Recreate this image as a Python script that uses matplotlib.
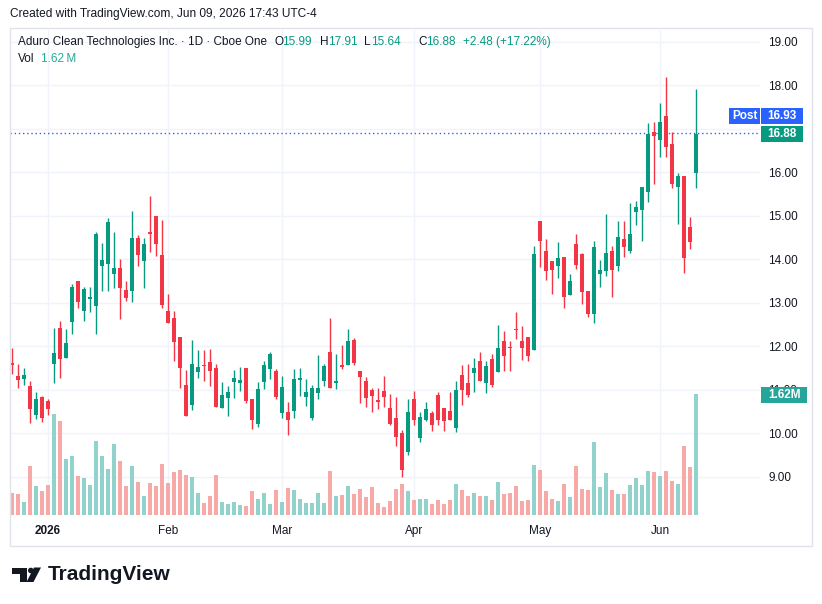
import matplotlib
matplotlib.use('Agg')
import matplotlib.pyplot as plt
from matplotlib.patches import Rectangle, Polygon, Circle
import numpy as np
import pandas as pd

# ---- data (daily OHLC, volume in millions) ----
opens = [11.62, 11.32, 11.24, 11.09, 10.41, 10.84, 10.75, 11.58, 12.43, 11.74,
         12.55, 13.51, 12.80, 13.08, 12.92, 13.84, 13.88, 13.65, 13.80, 13.30,
         13.26, 14.49, 13.95, 14.61, 15.00, 14.10, 12.82, 12.66, 12.22, 11.11,
         10.66, 11.40, 11.57, 11.64, 11.51, 10.59, 10.81, 11.17, 11.15, 11.50,
         10.79, 10.22, 11.18, 11.48, 11.44, 10.47, 10.49, 10.51, 11.22, 10.83,
         10.35, 10.93, 11.21, 11.87, 11.15, 11.57, 11.57, 12.14, 11.43, 11.20,
         11.00, 10.77, 10.97, 10.57, 10.34, 10.01, 9.56, 10.79, 9.90, 10.30,
         10.47, 10.88, 10.58, 10.51, 10.13, 11.34, 11.16, 11.38, 11.65, 11.15,
         11.70, 11.41, 12.11, 11.98, 12.40, 12.13, 12.21, 11.91, 14.89, 14.20,
         13.95, 13.84, 14.04, 13.18, 14.34, 14.11, 13.26, 12.74, 13.66, 13.72,
         14.18, 13.84, 14.47, 14.18, 15.08, 15.13, 15.54, 16.93, 16.73, 17.30,
         16.64, 15.65, 15.92, 14.73, 15.99]
highs = [11.95, 11.58, 11.49, 11.21, 10.95, 10.85, 10.79, 12.43, 12.59, 12.40,
         13.44, 13.51, 13.37, 13.37, 14.63, 14.38, 14.95, 14.62, 14.00, 13.51,
         15.11, 14.56, 14.49, 15.46, 15.00, 14.91, 13.21, 12.82, 12.22, 11.45,
         12.15, 11.92, 11.92, 11.94, 11.59, 11.18, 11.09, 11.46, 11.53, 11.50,
         10.79, 11.18, 11.67, 11.87, 11.48, 11.31, 10.72, 11.47, 11.50, 11.25,
         11.11, 11.80, 11.60, 12.65, 11.83, 12.03, 12.39, 12.20, 11.43, 11.30,
         11.05, 11.04, 11.32, 10.90, 10.84, 10.08, 10.79, 10.97, 10.49, 10.72,
         10.51, 10.95, 10.58, 10.95, 11.20, 11.57, 11.58, 11.74, 11.86, 11.65,
         11.81, 12.48, 12.36, 12.13, 12.78, 12.46, 12.21, 14.30, 14.89, 14.46,
         13.95, 14.39, 14.04, 13.67, 14.59, 14.15, 13.26, 14.41, 13.98, 15.04,
         14.31, 14.89, 14.89, 15.30, 15.33, 15.65, 17.14, 17.16, 17.60, 18.20,
         16.93, 15.98, 15.92, 14.96, 17.91]
lows = [11.37, 11.03, 11.12, 10.23, 10.32, 10.25, 10.41, 11.16, 11.26, 11.72,
        12.27, 12.89, 12.57, 12.78, 12.27, 13.28, 13.28, 13.35, 12.62, 13.03,
        13.01, 13.84, 13.35, 14.16, 14.07, 12.87, 12.53, 11.65, 11.03, 10.40,
        10.54, 11.26, 11.21, 11.09, 10.61, 10.59, 10.40, 10.80, 10.97, 10.70,
        10.10, 10.14, 11.02, 11.25, 10.79, 10.34, 9.97, 10.36, 10.85, 10.63,
        10.31, 10.79, 11.08, 11.05, 11.02, 11.48, 11.57, 11.57, 10.70, 10.61,
        10.49, 10.56, 10.61, 10.18, 9.71, 9.00, 9.50, 10.19, 9.80, 10.28,
        10.05, 10.19, 10.04, 10.31, 10.02, 10.66, 10.83, 10.94, 11.19, 10.92,
        11.06, 11.41, 11.43, 11.43, 12.17, 11.68, 11.66, 11.91, 13.82, 13.52,
        13.20, 13.57, 12.88, 13.18, 13.77, 12.97, 12.67, 12.53, 13.36, 13.61,
        13.13, 13.72, 14.06, 14.14, 14.78, 14.43, 15.31, 15.74, 16.34, 16.36,
        15.63, 14.82, 13.68, 14.23, 15.64]
closes = [11.57, 11.23, 11.35, 10.55, 10.79, 10.34, 10.55, 11.85, 11.70, 12.08,
          13.37, 13.01, 13.32, 13.14, 14.59, 13.99, 14.86, 13.80, 13.33, 13.10,
          14.49, 14.09, 14.36, 14.59, 14.36, 12.95, 12.53, 12.09, 11.51, 10.40,
          11.60, 11.53, 11.54, 11.44, 10.61, 10.89, 10.94, 11.26, 11.22, 10.75,
          10.30, 11.01, 11.56, 11.81, 10.83, 11.06, 10.31, 11.24, 11.26, 10.94,
          11.03, 11.04, 11.55, 11.05, 11.20, 11.53, 12.12, 11.62, 11.30, 10.82,
          10.86, 10.71, 10.83, 10.22, 9.92, 9.16, 10.49, 10.30, 10.37, 10.56,
          10.19, 10.30, 10.27, 10.31, 11.00, 11.00, 10.88, 11.50, 11.21, 11.55,
          11.12, 11.97, 11.77, 11.96, 12.38, 11.96, 11.77, 14.13, 14.42, 13.73,
          13.75, 14.02, 13.13, 13.51, 13.87, 13.24, 12.74, 14.27, 13.76, 14.15,
          13.75, 14.52, 14.27, 14.59, 15.19, 15.65, 16.89, 16.84, 17.16, 16.57,
          15.72, 15.92, 14.02, 14.40, 16.88]
volumes = [0.295, 0.286, 0.174, 0.656, 0.388, 0.321, 0.402, 1.352, 1.259, 0.750,
           0.790, 0.522, 0.495, 0.402, 0.991, 0.790, 0.616, 0.951, 0.723, 0.388,
           0.656, 0.442, 0.254, 0.428, 0.388, 0.683, 0.428, 0.576, 0.603, 0.536,
           0.509, 0.295, 0.161, 0.254, 0.536, 0.174, 0.147, 0.174, 0.134, 0.120,
           0.321, 0.214, 0.295, 0.147, 0.335, 0.174, 0.361, 0.335, 0.214, 0.161,
           0.161, 0.295, 0.161, 0.589, 0.254, 0.268, 0.388, 0.281, 0.348, 0.241,
           0.375, 0.161, 0.107, 0.187, 0.348, 0.415, 0.321, 0.201, 0.214, 0.214,
           0.147, 0.201, 0.147, 0.201, 0.415, 0.335, 0.260, 0.295, 0.254, 0.254,
           0.201, 0.442, 0.281, 0.295, 0.388, 0.187, 0.201, 0.669, 0.603, 0.321,
           0.214, 0.187, 0.415, 0.241, 0.656, 0.348, 0.335, 0.977, 0.375, 0.562,
           0.335, 0.281, 0.281, 0.402, 0.495, 0.402, 0.589, 0.576, 0.522, 0.589,
           0.455, 0.415, 0.924, 0.643, 1.620]
price_ticks = [9, 10, 11, 12, 13, 14, 15, 16, 17, 18, 19]
hidden_ticks = [17]   # covered by the last-price tags on the scale
holidays = ['2025-12-25', '2026-01-01', '2026-01-19', '2026-02-16',
            '2026-04-03', '2026-05-25']
dates = pd.bdate_range('2025-12-23', '2026-06-09', freq='C', holidays=holidays)

UP, DOWN = '#089981', '#f23645'
VUP, VDOWN = '#92d2cc', '#f7a9a7'
TXT = '#131722'
GRID = '#f0f3fa'
FONT = 'Liberation Sans'
plt.rcParams['font.family'] = FONT

W, H = 822, 604
fig = plt.figure(figsize=(W / 100, H / 100), dpi=100)
fig.patch.set_facecolor('white')

# pane in pixels
PL, PR, PT, PB = 10, 760, 30, 515
rect = [PL / W, (H - PB) / H, (PR - PL) / W, (PB - PT) / H]
XLIM = (-0.33, 124.67)
YLIM = (8.12, 19.27)

gax = fig.add_axes(rect)   # grid + axis labels
vax = fig.add_axes(rect)   # volume overlay
ax = fig.add_axes(rect)    # candles

n = len(closes)
idx = np.arange(n)
o, h, l, c = map(np.array, (opens, highs, lows, closes))
up = c >= o

# grid axes
gax.set_xlim(*XLIM)
gax.set_ylim(*YLIM)
month_idx = [i for i in range(1, n) if dates[i].month != dates[i - 1].month]
month_lbl = [str(dates[i].year) if dates[i].month == 1 else dates[i].strftime('%b')
             for i in month_idx]
gax.set_xticks(month_idx)
gax.set_xticklabels(month_lbl)
gax.set_yticks(price_ticks)
gax.set_yticklabels(['' if v in hidden_ticks else '%.2f' % v for v in price_ticks])
gax.yaxis.tick_right()
gax.tick_params(axis='y', length=0, pad=6, labelsize=8.5, labelcolor=TXT)
gax.tick_params(axis='x', length=0, pad=14, labelsize=8.5, labelcolor=TXT)
for t in gax.get_xticklabels():
    t.set_va('baseline')
    if t.get_text() == '2026':
        t.set_fontweight('bold')
gax.grid(color=GRID, lw=1)
for s in gax.spines.values():
    s.set_visible(False)

# volume
vax.bar(idx, volumes, 0.8, color=[VUP if u else VDOWN for u in up])
vax.set_xlim(*XLIM)
vax.set_ylim(0, 1.62 * (PB - PT) / 121)
vax.axis('off')

# candles
cols = [UP if u else DOWN for u in up]
ax.vlines(idx, l, h, colors=cols, lw=1, zorder=2)
ax.bar(idx, np.maximum(np.abs(c - o), 0.025), 0.78, bottom=np.minimum(o, c),
       color=cols, zorder=3)
ax.axhline(16.9, color='#2962ff', lw=1, ls=(0, (1, 2)), zorder=1)
ax.set_xlim(*XLIM)
ax.set_ylim(*YLIM)
ax.axis('off')

# overlay in pixel coordinates
ov = fig.add_axes([0, 0, 1, 1])
ov.set_xlim(0, W)
ov.set_ylim(H, 0)
ov.axis('off')

ov.add_patch(Rectangle((10, 28), 802, 518, fill=False, ec='#e0e3eb', lw=1))
ov.text(10, 14, 'Created with TradingView.com, Jun 09, 2026 17:43 UTC-4',
        fontsize=8.6, color=TXT, va='center')

pieces = [(18, 'Aduro Clean Technologies Inc. \u00b7 1D \u00b7 Cboe One', TXT),
          (274, 'O', TXT), (282, '15.99', UP),
          (320, 'H', TXT), (328, '17.91', UP),
          (364, 'L', TXT), (371, '15.64', UP),
          (418, 'C', TXT), (426, '16.88', UP),
          (463, '+2.48 (+17.22%)', UP)]
for x, s, col in pieces:
    ov.text(x, 42, s, fontsize=8.5, color=col, va='center')
ov.text(18, 59, 'Vol', fontsize=8.5, color=TXT, va='center')
ov.text(41, 59, '1.62\u2009M', fontsize=8.5, color='#22ab94', va='center')

# price labels on the scale
def tag(x, y, w, hh, s, fc):
    ov.add_patch(Rectangle((x, y), w, hh, fc=fc, ec='none'))
    ov.text(x + w / 2, y + hh / 2, s, color='white', fontsize=8.5,
            fontweight='bold', ha='center', va='center')

tag(729, 108, 31, 16, 'Post', '#2962ff')
tag(761, 108, 42, 16, '16.93', '#2962ff')
tag(761, 126, 42, 16, '16.88', UP)
tag(761, 387, 46, 16, '1.62M', '#26a69a')

# TradingView logo
ov.add_patch(Polygon([(12, 567.5), (26.5, 567.5), (26.5, 582), (19.5, 582),
                      (19.5, 573.5), (12, 573.5)], closed=True, fc=TXT, ec='none'))
ov.add_patch(Circle((30.8, 570.5), 2.8, fc=TXT, ec='none'))
ov.add_patch(Polygon([(34, 567.5), (41, 567.5), (33.5, 582), (26.5, 582)],
                     closed=True, fc=TXT, ec='none'))
ov.text(48, 575, 'TradingView', fontsize=15, fontweight='bold', color=TXT,
        va='center')

fig.savefig('out.png', dpi=100)
